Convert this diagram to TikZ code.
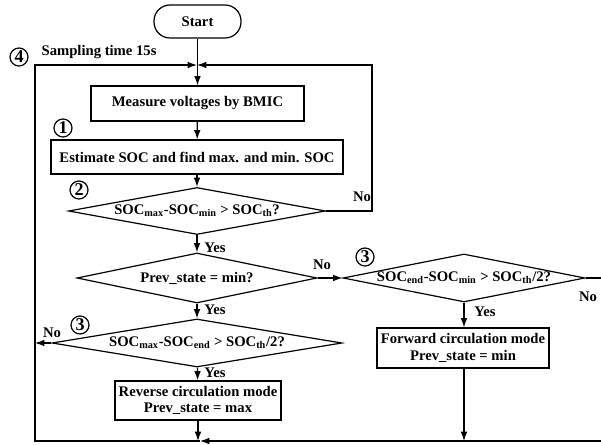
\documentclass[tikz,border=0pt]{standalone}
\usepackage{fontspec}
\setmainfont{Liberation Serif}
\usetikzlibrary{shapes.geometric,positioning,arrows.meta}
\tikzset{>={Latex[length=7pt,width=5pt]}}
\tikzset{font=\bfseries\fontsize{11}{12.5}\selectfont}
\newcommand{\ssub}[1]{\textsubscript{#1}}

\begin{document}
\begin{tikzpicture}[x=0.75pt,y=-0.75pt,line width=0.9pt,
    box/.style={draw, rectangle, inner sep=0pt, align=center},
    decision/.style={draw, diamond, inner sep=0pt},
    numcirc/.style={draw, circle, inner sep=0pt, minimum size=13.5pt,
      line width=0.9pt, font=\bfseries\fontsize{13.5}{13.5}\selectfont},
    lbl/.style={inner sep=0pt}]
  \useasboundingbox (0,0) rectangle (601,445);
  % blocks
  \node[box, rounded corners=12pt, minimum width=65.25pt, minimum height=24.75pt] (start) at (197.5,21.5) {Start};
  \node[box, minimum width=159.75pt, minimum height=26.25pt] (measure) at (197.5,103.5) {Measure voltages by BMIC};
  \node[box, minimum width=219pt, minimum height=25.5pt] (est) at (197,157) {Estimate SOC and find max. and min. SOC};
  \node[decision, minimum width=192.75pt, minimum height=35.25pt] (d1) at (197,211)
    {\makebox[0pt]{SOC\ssub{max}-SOC\ssub{min} > SOC\ssub{th}?}};
  \node[decision, minimum width=180pt, minimum height=37.5pt] (d2) at (197,278)
    {\makebox[0pt]{Prev\_state = min?}};
  \node[decision, minimum width=217.5pt, minimum height=36pt] (d3) at (197,343)
    {\makebox[0pt]{SOC\ssub{max}-SOC\ssub{end} > SOC\ssub{th}/2?}};
  \node[decision, minimum width=181.5pt, minimum height=36pt] (d4) at (464,278)
    {\makebox[0pt]{SOC\ssub{end}-SOC\ssub{min} > SOC\ssub{th}/2?}};
  \node[box, minimum width=124.5pt, minimum height=29.25pt] (rev) at (198,400.5)
    {Reverse circulation mode\\Prev\_state = max};
  \node[box, minimum width=129pt, minimum height=30pt] (fwd) at (463,348)
    {Forward circulation mode\\Prev\_state = min};

  % circled step numbers
  \node[numcirc] (n4) at (19,57) {4};
  \node[lbl, anchor=west] (samp) at (41,52) {Sampling time 15s};
  \node[numcirc] (n1) at (63,128) {1};
  \node[numcirc] (n2) at (79,190) {2};
  \node[numcirc] (n3a) at (80,325) {3};
  \node[numcirc] (n3b) at (365,257) {3};

  % branch labels
  \node[lbl] (no1) at (362,197) {No};
  \node[lbl] (yes1) at (215,248) {Yes};
  \node[lbl] (yes2) at (215,310) {Yes};
  \node[lbl] (yes3) at (215,373) {Yes};
  \node[lbl] (no2) at (322,265) {No};
  \node[lbl] (no3) at (52,333) {No};
  \node[lbl] (yes4) at (485,312) {Yes};
  \node[lbl] (no4) at (588,297) {No};

  % loop corners
  \coordinate (topjoin) at (197,65);
  \coordinate (loopr) at (372,65);
  \coordinate (loopl) at (35,65);
  \coordinate (botl) at (35,441);
  \coordinate (botr) at (601,441);
  \coordinate (botjoin) at (200,441);

  % connectors
  \draw[->] (start) -- (measure);
  \draw[->] (measure) -- (est);
  \draw[->] (est) -- (d1);
  \draw[->] (d1) -- (d2);
  \draw[->] (d2) -- (d3);
  \draw[->] (d3) -- (rev);
  \draw[->] (d2.east) -- (d4.west);
  \draw[->] (d4.south) -- (d4.south |- fwd.north);
  \draw[->] (d1.east) -| (loopr) -- (topjoin);
  \draw[->] (botjoin) -- (botl) -- (loopl) -- (topjoin);
  \draw[->] (botr) -- (botjoin);
  \draw[->] (d3.west) -- (d3.west -| loopl);
  \draw[->] (rev) -- (rev |- botl);
  \draw[->] (fwd.south -| d4.south) -- (d4.south |- botl);
  \draw (d4.east) -- (d4.east -| botr);
\end{tikzpicture}
\end{document}
